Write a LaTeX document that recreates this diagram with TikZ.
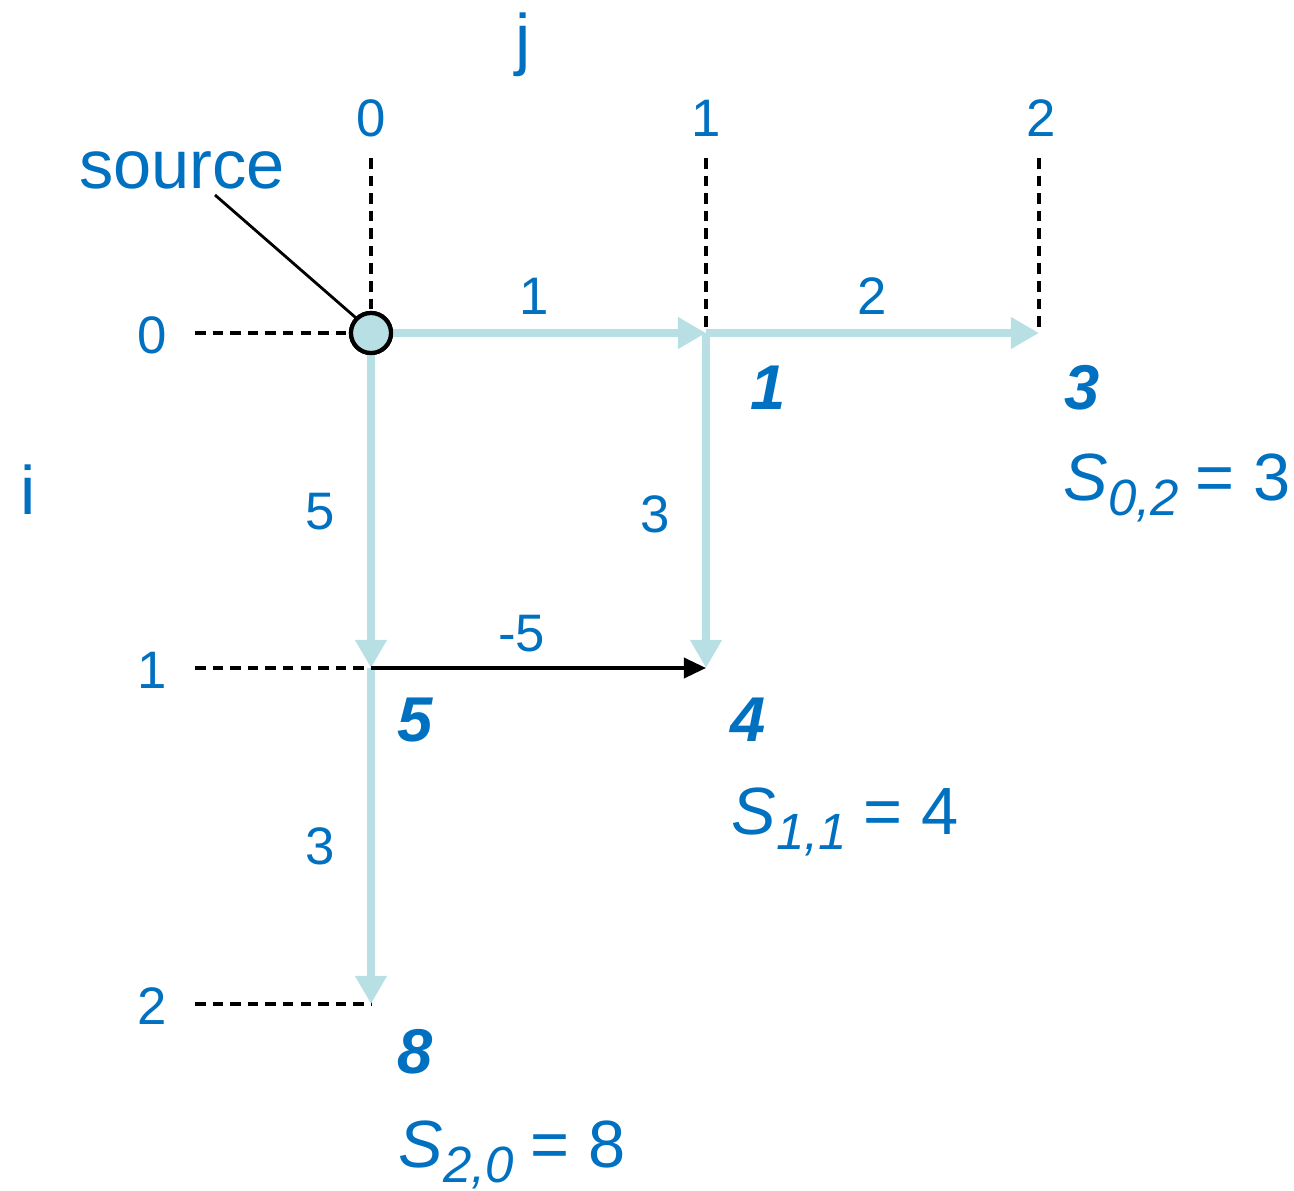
\documentclass[tikz,border=0pt]{standalone}
\usepackage{fontspec}
\setmainfont{Liberation Sans}
\usetikzlibrary{arrows.meta}
\definecolor{txtblue}{HTML}{0070C0}
\definecolor{edgeblue}{HTML}{B8E0E4}
\newcommand{\sumlabel}[2]{\textit{S}\raisebox{-0.45ex}{\fontsize{14.5}{15}\selectfont\itshape #1}\hspace{0.25em}= #2}
\begin{document}
\begin{tikzpicture}[x=0.01cm, y=-0.01cm,
  lbl/.style={text=txtblue, font=\fontsize{15}{17}\selectfont, inner sep=0pt},
  axis/.style={text=txtblue, font=\fontsize{19.5}{22}\selectfont, inner sep=0pt},
  dist/.style={text=txtblue, font=\fontsize{18}{20}\selectfont\bfseries\itshape, inner sep=0pt},
  sumlbl/.style={text=txtblue, font=\fontsize{19}{22}\selectfont, inner sep=0pt, anchor=base west},
  guide/.style={black, line width=1.1pt, dash pattern=on 3pt off 2pt},
  edge/.style={edgeblue, line width=2.3pt, -{Triangle[length=0.28cm, width=0.3cm]}},
  negedge/.style={black, line width=1pt, -{Triangle[length=0.22cm, width=0.2cm]}}]
\useasboundingbox (0,0) rectangle (1294,1191);
% grid points
\coordinate (p00) at (371,333);
\coordinate (p01) at (706,333);
\coordinate (p02) at (1039,333);
\coordinate (p10) at (371,668);
\coordinate (p11) at (706,668);
\coordinate (p20) at (371,1004);
% guide ends
\coordinate (top0) at (371,158);
\coordinate (top1) at (706,158);
\coordinate (top2) at (1039,158);
\coordinate (left0) at (195,333);
\coordinate (left1) at (195,668);
\coordinate (left2) at (195,1004);
% axis labels
\node[axis] (jlab) at (523,45) {j};
\node[axis] (ilab) at (28,490) {i};
\node[lbl] (c0) at (371,118) {0};
\node[lbl] (c1) at (706,118) {1};
\node[lbl] (c2) at (1041,118) {2};
\node[lbl] (r0) at (152,335) {0};
\node[lbl] (r1) at (152,670) {1};
\node[lbl] (r2) at (152,1006) {2};
% dashed guides
\draw[guide] (top0) -- (p00);
\draw[guide] (top1) -- (p01);
\draw[guide] (top2) -- (p02);
\draw[guide] (left0) -- (p00);
\draw[guide] (left1) -- (p10);
\draw[guide] (left2) -- (p20);
% source
\node[draw=black, line width=1.2pt, fill=edgeblue, circle, minimum size=0.4cm, inner sep=0pt] (src) at (p00) {};
\node[axis] (srclab) at (182,170) {source};
% edges
\draw[edge] (src) -- (p01) node[lbl, pos=0.45, above=4pt] (w1) {1};
\draw[edge] (p01) -- (p02) node[lbl, midway, above=4pt] (w2) {2};
\draw[edge] (src) -- (p10) node[lbl, midway, left=9pt] (w3) {5};
\draw[edge] (p01) -- (p11) node[lbl, pos=0.54, left=9pt] (w4) {3};
\draw[edge] (p10) -- (p20) node[lbl, pos=0.53, left=9pt] (w5) {3};
\draw[negedge] (p10) -- (p11) node[lbl, pos=0.45, above=4pt] (w6) {-5};
\node[draw=black, line width=1.2pt, fill=edgeblue, circle, minimum size=0.4cm, inner sep=0pt] at (p00) {};
\draw[black, line width=0.8pt] (215,195) -- (src.north west);
% distances
\node[dist] (d01) at (768,388) {1};
\node[dist] (d02) at (1082,388) {3};
\node[dist] (d10) at (415,720) {5};
\node[dist] (d11) at (748,720) {4};
\node[dist] (d20) at (415,1052) {8};
\node[sumlbl] (s02) at (1063,500) {\sumlabel{0,2}{3}};
\node[sumlbl] (s11) at (731,834) {\sumlabel{1,1}{4}};
\node[sumlbl] (s20) at (398,1167) {\sumlabel{2,0}{8}};
\end{tikzpicture}
\end{document}
